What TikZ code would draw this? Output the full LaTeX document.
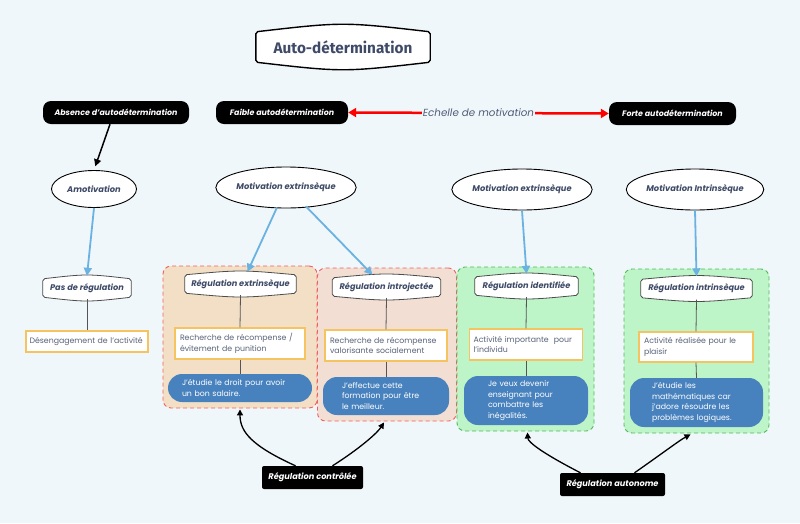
\documentclass[tikz,border=0pt]{standalone}
\usepackage{fontspec}
\setmainfont{Poppins}
\newfontfamily\titlefont{Fira Sans}
\usetikzlibrary{arrows.meta,calc,shapes.geometric}
\definecolor{bgc}{RGB}{240,247,250}
\definecolor{titc}{RGB}{62,74,103}
\definecolor{hdc}{RGB}{62,74,103}
\definecolor{bodyc}{RGB}{88,98,120}
\definecolor{echc}{RGB}{80,92,120}
\definecolor{ylw}{RGB}{245,195,95}
\definecolor{pillc}{RGB}{72,130,190}
\definecolor{arrb}{RGB}{106,178,226}
\definecolor{linec}{RGB}{85,85,85}
\definecolor{tanA}{RGB}{242,223,197}
\definecolor{pinkA}{RGB}{242,222,211}
\definecolor{greenA}{RGB}{190,245,200}
\definecolor{redD}{RGB}{240,96,96}
\definecolor{greenD}{RGB}{80,185,90}
\pgfdeclarelayer{bgzero}
\pgfdeclarelayer{bgone}
\pgfsetlayers{bgzero,bgone,main}
\newcommand\bowshape[3]{%
  \draw[#3] (#1.north west) .. controls ([yshift=#2]#1.north) .. (#1.north east)
    -- (#1.south east) .. controls ([yshift=-#2]#1.south) .. (#1.south west) -- cycle;}
\tikzset{
  grp/.style={rounded corners=8pt, dashed, dash pattern=on 4pt off 3pt, line width=0.9pt, inner sep=0},
  blk/.style={fill=black, rounded corners=8pt, text=white, inner sep=0, minimum height=23,
    font=\bfseries\itshape\fontsize{7.9}{9}\selectfont},
  blktwo/.style={fill=black, rounded corners=2pt, text=white, inner sep=0, minimum height=23,
    font=\bfseries\itshape\fontsize{8.2}{9}\selectfont},
  ell/.style={ellipse, draw=black, line width=0.9pt, fill=white, inner sep=0, text=hdc,
    font=\bfseries\itshape\fontsize{8.3}{9}\selectfont},
  hdr/.style={inner sep=0, minimum height=18, text=hdc,
    font=\bfseries\itshape\fontsize{8.2}{9}\selectfont},
  ybox/.style={draw=ylw, line width=1.3pt, fill=white, inner xsep=5pt, inner ysep=0,
    align=left, text=bodyc, font=\fontsize{7.8}{10.5}\selectfont},
  pill/.style={fill=pillc, rounded corners=14pt, text=white, align=left, inner ysep=0,
    font=\fontsize{7.8}{10.5}\selectfont},
  blue/.style={draw=arrb, line width=1.8pt, -{Triangle[length=8pt,width=8pt]}},
  conn/.style={draw=linec, line width=0.8pt},
  curv/.style={draw=black, line width=1.3pt, -{Triangle[length=6pt,width=6pt]}},
}
\begin{document}
\begin{tikzpicture}[x=1pt,y=-1pt]
\begin{pgfonlayer}{bgzero}
\fill[bgc] (0,0) rectangle (800,523);
\node[grp, fill=tanA, draw=redD, minimum width=154, minimum height=142] (g1) at (240,337) {};
\node[grp, fill=pinkA, draw=redD, minimum width=139, minimum height=153] (g2) at (387,344.5) {};
\node[grp, fill=greenA, draw=greenD, minimum width=137, minimum height=164] (g3) at (525.5,349) {};
\node[grp, fill=greenA, draw=greenD, minimum width=145, minimum height=164] (g4) at (696.5,351) {};
\end{pgfonlayer}
\useasboundingbox (0,0) rectangle (800,523);

% title
\node[inner sep=0, minimum width=174, minimum height=30, text=titc,
  font=\titlefont\bfseries\fontsize{15.3}{18}\selectfont] (title) at (343,47) {Auto-détermination};

% top black boxes
\node[blk, minimum width=146] (abs) at (116,112.5) {Absence d'autodétermination};
\node[blk, minimum width=132] (fai) at (282,112.5) {Faible autodétermination};
\node[blk, minimum width=127] (for) at (672.5,113.5) {Forte autodétermination};

\draw[red, line width=2.5pt, {Triangle[length=8pt,width=9pt]}-{Triangle[length=8pt,width=9pt]}]
  (fai.east) -- node[fill=bgc, inner sep=1pt, text=echc, font=\itshape\fontsize{10.3}{12}\selectfont] {Echelle de motivation} (for.west);

% ellipses
\node[ell, minimum width=85, minimum height=37] (amot) at (94,189) {Amotivation};
\node[ell, minimum width=131, minimum height=41] (mel) at (286,187.5) {Motivation extrinsèque};
\node[ell, minimum width=131, minimum height=41] (mem) at (522,189.5) {Motivation extrinsèque};
\node[ell, minimum width=128, minimum height=41] (mi) at (695,189.5) {Motivation Intrinsèque};

\draw[line width=1.5pt, -{Triangle[length=7pt,width=7pt]}, shorten >=4pt] ([xshift=-6pt]abs.south) -- (amot.north);

% headers
\node[hdr, minimum width=88] (pas) at (87,288) {Pas de régulation};
\node[hdr, minimum width=111] (rex) at (240.5,284) {Régulation extrinsèque};
\node[hdr, minimum width=108] (rit) at (386.5,287) {Régulation introjectée};
\node[hdr, minimum width=103] (rid) at (526.5,286) {Régulation identifiée};
\node[hdr, minimum width=111] (rin) at (696.5,288.5) {Régulation intrinsèque};

\begin{pgfonlayer}{bgone}
\bowshape{title}{10pt}{draw=black, line width=1.4pt, fill=white, rounded corners=2pt}
\bowshape{pas}{5pt}{draw=black!70, line width=0.8pt, fill=white, rounded corners=2pt}
\bowshape{rex}{5pt}{draw=black!70, line width=0.8pt, fill=white, rounded corners=2pt}
\bowshape{rit}{5pt}{draw=black!70, line width=0.8pt, fill=white, rounded corners=2pt}
\bowshape{rid}{5pt}{draw=black!70, line width=0.8pt, fill=white, rounded corners=2pt}
\bowshape{rin}{5pt}{draw=black!70, line width=0.8pt, fill=white, rounded corners=2pt}
\end{pgfonlayer}

% blue arrows
\draw[blue] (amot.south) -- ([yshift=3pt]pas.north);
\draw[blue] ($(mel.south)+(-9,-1)$) -- ([xshift=7pt,yshift=3pt]rex.north);
\draw[blue] ($(mel.south)+(20,-2)$) -- ([xshift=-14pt,yshift=3pt]rit.north);
\draw[blue] (mem.south) -- ([yshift=3pt]rid.north);
\draw[blue] (mi.south) -- ([yshift=3pt]rin.north);

% yellow boxes
\node[ybox, inner xsep=3.5pt, text width=115, minimum height=21] (y0) at (87,341.5) {Désengagement de l'activité};
\node[ybox, text width=120, minimum height=31] (y1) at (240,343.5) {Recherche de récompense /\\évitement de punition};
\node[ybox, text width=112, minimum height=31] (y2) at (386,345.5) {Recherche de récompense\\valorisante socialement};
\node[ybox, inner xsep=4pt, text width=105, minimum height=31] (y3) at (526,344.5) {Activité importante~ pour\\l'individu};
\node[ybox, text width=104, minimum height=30] (y4) at (696,347) {Activité réalisée pour le\\plaisir};

% pills
\node[pill, inner xsep=14pt, text width=116, minimum height=28] (p1) at (240,388) {J'étudie le droit pour avoir\\un bon salaire.};
\node[pill, inner xsep=19pt, text width=88, minimum height=38] (p2) at (386,396) {J'effectue cette\\formation pour être\\le meilleur.};
\node[pill, inner xsep=24pt, text width=76, minimum height=49] (p3) at (526,400.5) {Je veux devenir\\enseignant pour\\combattre les\\inégalités.};
\node[pill, inner xsep=22pt, text width=89, minimum height=49] (p4) at (696.5,402.5) {J'étudie les\\mathématiques car\\j'adore résoudre les\\problèmes logiques.};

% gray connectors
\draw[conn] ([yshift=-2pt]pas.south) -- (y0.north);
\draw[conn] ([yshift=-2pt]rex.south) -- (y1.north);
\draw[conn] (y1.south) -- (p1.north);
\draw[conn] ([yshift=-2pt]rit.south) -- (y2.north);
\draw[conn] (y2.south) -- (p2.north);
\draw[conn] ([yshift=-2pt]rid.south) -- (y3.north);
\draw[conn] (y3.south) -- (p3.north);
\draw[conn] ([yshift=-2pt]rin.south) -- (y4.north);
\draw[conn] (y4.south) -- (p4.north);

% bottom labels
\node[blktwo, minimum width=101] (ctrl) at (312.5,477.5) {Régulation contrôlée};
\node[blktwo, minimum width=105] (auto) at (612.5,484.5) {Régulation autonome};

\draw[curv] ([xshift=-17pt]ctrl.north) .. controls (252,446) and (240,432) .. ([yshift=-1pt]g1.south);
\draw[curv] ([xshift=20pt]ctrl.north) .. controls (362,447) and (378,432) .. ([xshift=-3pt,yshift=-1pt]g2.south);
\draw[curv] ([xshift=-32pt]auto.north) .. controls (542,453) and (528,442) .. ([xshift=2pt,yshift=-1pt]g3.south);
\draw[curv] ([xshift=22pt]auto.north) .. controls (660,455) and (680,440) .. ([xshift=-6pt,yshift=-1pt]g4.south);
\end{tikzpicture}
\end{document}
